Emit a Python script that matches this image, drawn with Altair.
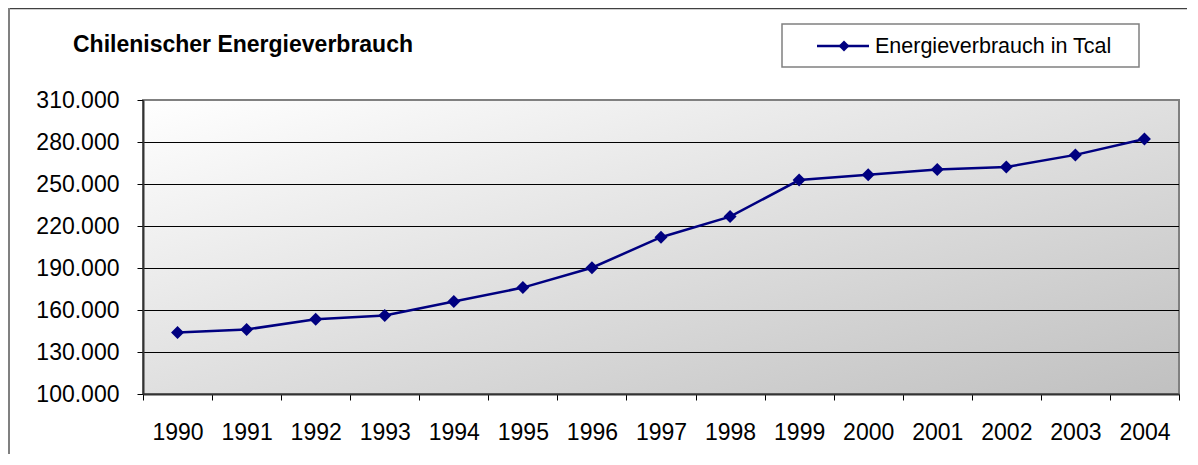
import altair as alt
import pandas as pd

# ---- data ----
years = ["1990", "1991", "1992", "1993", "1994", "1995", "1996", "1997",
         "1998", "1999", "2000", "2001", "2002", "2003", "2004"]
values = [143900, 146100, 153400, 156000, 166000, 176000, 190200, 212000,
          226700, 252800, 256600, 260400, 262100, 270800, 282200]
y_ticks = [100000, 130000, 160000, 190000, 220000, 250000, 280000, 310000]
title_text = "Chilenischer Energieverbrauch"
series_name = "Energieverbrauch in Tcal"

W, H = 1036, 294
FONT = "Liberation Sans"
NAVY = "#000080"

df = pd.DataFrame({"year": years, "value": values})
grid_df = pd.DataFrame({"value": y_ticks[1:-1]})

x_enc = alt.X("year:O", sort=years,
              scale=alt.Scale(type="band", paddingInner=0, paddingOuter=0),
              axis=alt.Axis(title=None, tickBand="extent", labelAngle=0,
                            labelFontSize=23, labelFont=FONT, labelColor="black",
                            tickColor="black", tickSize=6, tickWidth=1,
                            labelPadding=21, domainColor="#333333", domainWidth=2,
                            grid=False, zindex=1))
y_scale = alt.Scale(domain=[y_ticks[0], y_ticks[-1]], nice=False, zero=False)
y_axis = alt.Axis(title=None, values=y_ticks,
                  labelExpr="replace(format(datum.value, ','), ',', '.')",
                  labelFontSize=23, labelFont=FONT, labelColor="black",
                  tickColor="black", tickSize=6, tickWidth=1,
                  labelPadding=18, domainColor="#333333", domainWidth=2,
                  grid=False, zindex=1)
y_enc = alt.Y("value:Q", scale=y_scale, axis=y_axis)

gradient = alt.Gradient(
    gradient="linear",
    stops=[alt.GradientStop(color="#ffffff", offset=0),
           alt.GradientStop(color="#c0c0c0", offset=1)],
    x1=0, y1=0, x2=1, y2=1)

one = alt.Data(values=[{"name": series_name, "t": title_text}])

bg = alt.Chart(one).mark_rect(color=gradient, stroke="#808080", strokeWidth=2).encode(
    x=alt.value(0), x2=alt.value(W), y=alt.value(0), y2=alt.value(H))

grid = alt.Chart(grid_df).mark_rule(color="black", strokeWidth=1, yOffset=0.5).encode(y=y_enc)

line = alt.Chart(df).mark_line(color=NAVY, strokeWidth=2.5).encode(x=x_enc, y=y_enc)
pts = alt.Chart(df).mark_point(shape="diamond", filled=True, size=169,
                               color=NAVY, opacity=1).encode(x=x_enc, y=y_enc)

title = alt.Chart(one).mark_text(align="left", baseline="middle", fontSize=23,
                                 fontWeight="bold", font=FONT, color="black").encode(
    x=alt.value(-70), y=alt.value(-55), text="t:N")

leg_box = alt.Chart(one).mark_rect(fill="white", stroke="#808080", strokeWidth=1.5).encode(
    x=alt.value(639), x2=alt.value(996), y=alt.value(-76), y2=alt.value(-33))
leg_line = alt.Chart(one).mark_rule(color=NAVY, strokeWidth=2.5).encode(
    x=alt.value(674), x2=alt.value(726), y=alt.value(-54))
leg_pt = alt.Chart(one).mark_point(shape="diamond", filled=True, size=120,
                                   color=NAVY, opacity=1).encode(
    x=alt.value(701), y=alt.value(-54))
leg_txt = alt.Chart(one).mark_text(align="left", baseline="middle", fontSize=21.5,
                                   font=FONT, color="black").encode(
    x=alt.value(732), y=alt.value(-53), text="name:N")

frame_top = alt.Chart(one).mark_rule(color="#404040", strokeWidth=1.5).encode(
    x=alt.value(-135), x2=alt.value(W + 8), y=alt.value(-91.5))
frame_left = alt.Chart(one).mark_rule(color="#808080", strokeWidth=2).encode(
    x=alt.value(-134), y=alt.value(-92), y2=alt.value(H + 60))

chart = alt.layer(bg, grid, line, pts, title, leg_box, leg_line, leg_pt, leg_txt,
                  frame_top, frame_left).properties(
    width=W, height=H,
    autosize=alt.AutoSizeParams(type="none"),
    padding={"left": 135, "top": 92, "right": 8, "bottom": 60},
    background="white",
).configure_view(stroke=None)

chart.save("out.html", embed_options={"renderer": "svg", "actions": False})
